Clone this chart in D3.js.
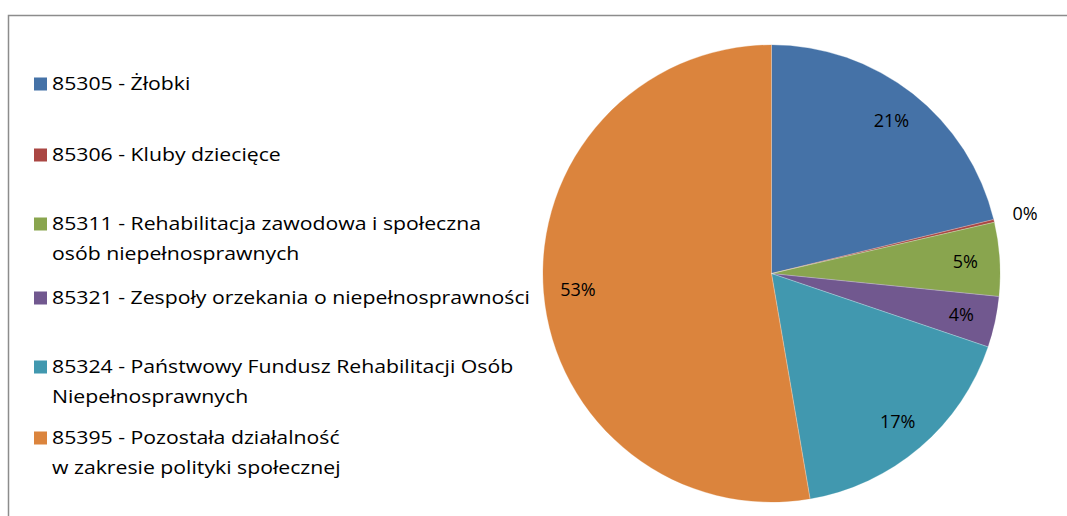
<!DOCTYPE html>
<html>
<head>
<meta charset="utf-8">
<script src="https://cdn.jsdelivr.net/npm/d3@7"></script>
<style>
  body { margin: 0; background: #fff; }
  text { font-family: "Open Sans", sans-serif; fill: #000; }
</style>
</head>
<body>
<svg id="chart" width="1067" height="516"></svg>
<script>
const categories = [
  ['85305 - Żłobki'],
  ['85306 - Kluby dziecięce'],
  ['85311 - Rehabilitacja zawodowa i społeczna', 'osób niepełnosprawnych'],
  ['85321 - Zespoły orzekania o niepełnosprawności'],
  ['85324 - Państwowy Fundusz Rehabilitacji Osób', 'Niepełnosprawnych'],
  ['85395 - Pozostała działalność', 'w zakresie polityki społecznej']
]
const values = [21.2, 0.2, 5.2, 3.6, 17.1, 52.7]
const colors = ['#4572a7', '#aa4643', '#89a54e', '#71588f', '#4198af', '#db843d']
const legendY = [84, 155, 224, 298, 367, 438]

const svg = d3.select('#chart')
const width = 1067, height = 516

// outer frame (clipped on right and bottom like the source)
svg.append('path')
  .attr('d', `M8.5,${height}V15.5H${width}`)
  .attr('fill', 'none')
  .attr('stroke', '#8c8c8c')
  .attr('stroke-width', 1.5)

const cx = 771.5, cy = 273.5, r = 228.5

const pie = d3.pie().sort(null).value(d => d)
const arcs = pie(values)
const arc = d3.arc().innerRadius(0).outerRadius(r)
const labelArc = d3.arc().innerRadius(r * 0.85).outerRadius(r * 0.85)
const outerArc = d3.arc().innerRadius(r * 1.14).outerRadius(r * 1.14)

const g = svg.append('g').attr('transform', `translate(${cx},${cy})`)

g.selectAll('path.slice')
  .data(arcs)
  .enter()
  .append('path')
  .attr('class', 'slice')
  .attr('d', arc)
  .attr('fill', (d, i) => colors[i])
  .attr('stroke', (d, i) => colors[i])
  .attr('stroke-width', 0.3)

// thin separators
g.selectAll('line.sep')
  .data(arcs)
  .enter()
  .append('line')
  .attr('x2', d => r * Math.sin(d.startAngle))
  .attr('y2', d => -r * Math.cos(d.startAngle))
  .attr('stroke', 'rgba(255,255,255,0.35)')
  .attr('stroke-width', 1)

g.selectAll('text.lbl')
  .data(arcs)
  .enter()
  .append('text')
  .attr('class', 'lbl')
  .attr('transform', d => {
    const p = d.data < 1 ? outerArc.centroid(d) : labelArc.centroid(d)
    return `translate(${p})`
  })
  .attr('text-anchor', 'middle')
  .attr('dy', '0.35em')
  .style('font-size', '18px')
  .text(d => Math.round(d.data) + '%')

// legend
const legend = svg.append('g')
categories.forEach((lines, i) => {
  const y = legendY[i]
  legend.append('rect')
    .attr('x', 34).attr('y', y - 6.5)
    .attr('width', 13).attr('height', 13)
    .attr('fill', colors[i])
  const t = legend.append('text')
    .attr('transform', `translate(52,${y}) scale(1.18,1)`)
    .style('font-size', '18px')
  lines.forEach((line, j) => {
    t.append('tspan')
      .attr('x', 0)
      .attr('dy', j === 0 ? '0.35em' : '29.5px')
      .text(line)
  })
})
</script>
</body>
</html>
